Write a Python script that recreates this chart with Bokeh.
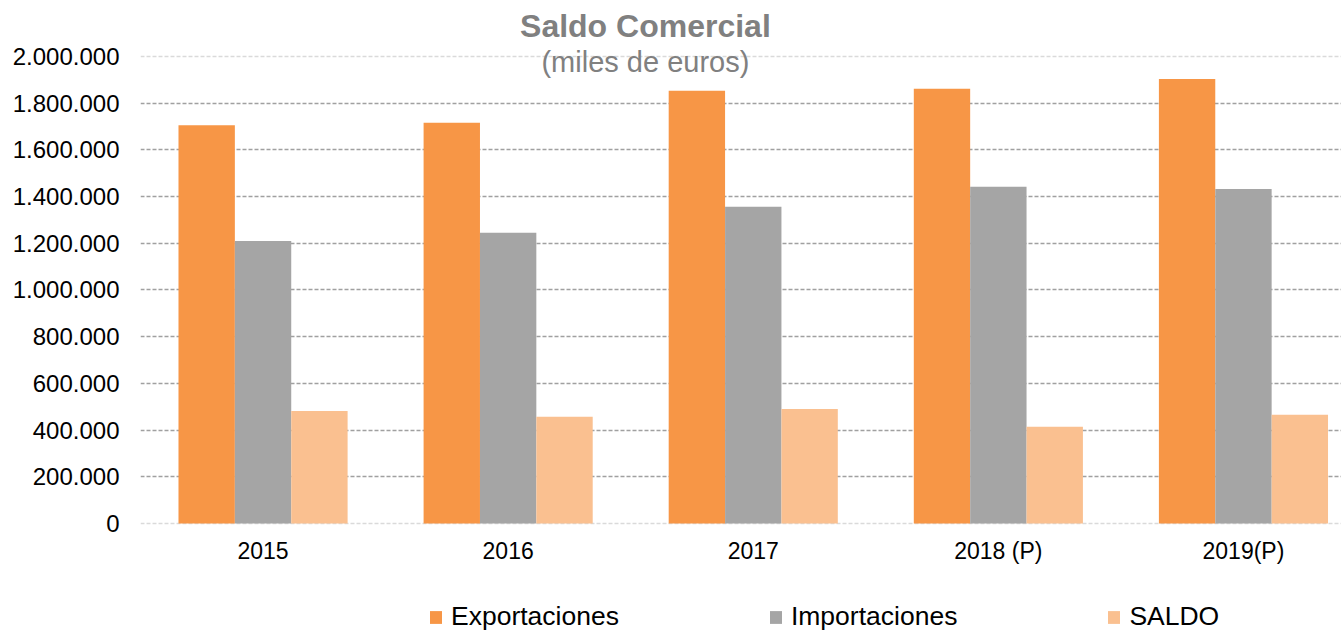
from bokeh.plotting import figure
from bokeh.models import Range1d, FixedTicker, Legend, LegendItem, Label, Span, ColumnDataSource
from bokeh.embed import file_html
from bokeh.resources import INLINE

years = ["2015", "2016", "2017", "2018 (P)", "2019(P)"]
exportaciones = [1706000, 1716000, 1853000, 1862000, 1904000]
importaciones = [1210000, 1245000, 1356000, 1442000, 1433000]
saldo = [482000, 457000, 490000, 414000, 466000]
series_names = ["Exportaciones", "Importaciones", "SALDO"]
series_colors = ["#F79646", "#A5A5A5", "#FAC090"]
y_ticks = [0, 200000, 400000, 600000, 800000, 1000000, 1200000, 1400000, 1600000, 1800000, 2000000]
y_tick_labels = ["0", "200.000", "400.000", "600.000", "800.000", "1.000.000",
                 "1.200.000", "1.400.000", "1.600.000", "1.800.000", "2.000.000"]
title_text = "Saldo Comercial"
subtitle_text = "(miles de euros)"

FONT = "Liberation Sans"
centers = [i + 0.5 for i in range(len(years))]
bar_w = 0.23
offsets = [-bar_w, 0.0, bar_w]

# frame covers the whole canvas height so the title and legend can sit inside it;
# the value axis only ticks 0..2.000.000
p = figure(width=1341, height=632, output_backend="svg", toolbar_location=None,
           x_range=Range1d(0, 4.9), y_range=Range1d(-466800, 2239800),
           min_border_left=140, min_border_right=0, min_border_top=0, min_border_bottom=0)
p.outline_line_color = None
p.background_fill_color = "white"
p.border_fill_color = "white"

# grid
p.xgrid.grid_line_color = None
p.ygrid.ticker = FixedTicker(ticks=y_ticks[1:-1])
p.ygrid.grid_line_color = "#A0A0A0"
p.ygrid.grid_line_dash = "4 2"
p.ygrid.grid_line_width = 1.5
for yv in (y_ticks[0], y_ticks[-1]):
    p.add_layout(Span(location=yv, dimension="width", line_color="#DADADA",
                      line_dash="4 2", line_width=1.5, level="underlay"))

# bars
items = []
for vals, name, col, off in zip([exportaciones, importaciones, saldo], series_names, series_colors, offsets):
    src = ColumnDataSource(dict(x=[c + off for c in centers], top=vals))
    r = p.vbar(x="x", top="top", width=bar_w, bottom=0, source=src,
               fill_color=col, line_color=None)
    items.append(LegendItem(label=name, renderers=[r]))

# axes
p.yaxis.ticker = FixedTicker(ticks=y_ticks)
p.yaxis.major_label_overrides = {t: l for t, l in zip(y_ticks, y_tick_labels)}
p.yaxis.axis_line_color = None
p.yaxis.major_tick_line_color = None
p.yaxis.minor_tick_line_color = None
p.yaxis.major_label_standoff = 15
p.yaxis.major_label_text_font = FONT
p.yaxis.major_label_text_font_size = "24px"
p.yaxis.major_label_text_color = "#000000"

p.xaxis.fixed_location = 0
p.xaxis.ticker = FixedTicker(ticks=centers)
p.xaxis.major_label_overrides = {c: y for c, y in zip(centers, years)}
p.xaxis.axis_line_color = None
p.xaxis.major_tick_line_color = None
p.xaxis.minor_tick_line_color = None
p.xaxis.major_label_standoff = 8
p.xaxis.major_label_text_font = FONT
p.xaxis.major_label_text_font_size = "23px"
p.xaxis.major_label_text_color = "#000000"

# legend (frame pixel coordinates from bottom-left)
legend = Legend(items=items, orientation="horizontal", location=(288, 0),
                glyph_width=15, glyph_height=16, label_standoff=8, spacing=149,
                padding=0, margin=0, border_line_color=None, background_fill_alpha=0,
                label_text_font=FONT, label_text_font_size="26.5px", label_text_color="#000000")
p.add_layout(legend, "center")

# title
p.add_layout(Label(x=2.06, y=2132000, text=title_text, text_align="center", text_baseline="middle",
                   text_font=FONT, text_font_size="32px", text_font_style="bold", text_color="#808080"))
p.add_layout(Label(x=2.06, y=1978000, text=subtitle_text, text_align="center", text_baseline="middle",
                   text_font=FONT, text_font_size="29px", text_color="#808080"))

open("out.html", "w").write(file_html(p, INLINE))
